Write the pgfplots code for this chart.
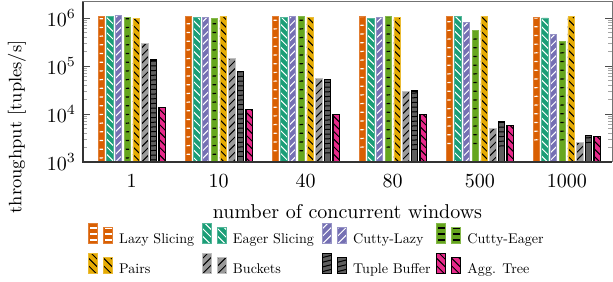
\documentclass[border=0pt]{standalone}
\usepackage{graphicx}
\usepackage{pgfplots}
\pgfplotsset{compat=1.18}
\definecolor{cO}{HTML}{D95F02}
\definecolor{cT}{HTML}{1B9E77}
\definecolor{cP}{HTML}{7570B3}
\definecolor{cG}{HTML}{66A61E}
\definecolor{cY}{HTML}{E6AB02}
\definecolor{cB}{HTML}{9A9A9A}
\definecolor{cD}{HTML}{5E5E5E}
\definecolor{cK}{HTML}{E7298A}
\newif\ifinpp
\newif\ifinleg
\tikzset{
 hdash/.style={path picture={\ifinpp\else\inpptrue
   \ifinleg
     \foreach \k in {0,...,2}{\fill[#1] ([xshift=-1.4pt,yshift=\k*3pt+1.5pt]path picture bounding box.south) rectangle ([xshift=1.4pt,yshift=\k*3pt+2.1pt]path picture bounding box.south);}
   \else
     \foreach \k in {0,...,19}{\draw[#1,line width=0.6pt,dash pattern=on 1.6pt off 41.9pt] ([xshift=0.775pt,yshift=\k*4.35pt+2pt]path picture bounding box.south west) -- ++(270pt,0);}
   \fi
   \inppfalse\fi}},
 bslash/.style={path picture={\ifinpp\else\inpptrue\foreach \k in {0,...,92}{\draw[#1,line width=0.5pt] ([yshift=\k*3.8pt]path picture bounding box.south west) -- ++(350pt,-350pt);}\inppfalse\fi}},
 fslash/.style={path picture={\ifinpp\else\inpptrue\foreach \k in {-72,...,24}{\draw[#1,line width=0.5pt] ([yshift=\k*3.8pt]path picture bounding box.south west) -- ++(350pt,350pt);}\inppfalse\fi}},
 hline/.style={path picture={\ifinpp\else\inpptrue\foreach \k in {0,...,36}{\draw[#1,line width=0.5pt] ([yshift=\k*2.35pt+1pt]path picture bounding box.south west) -- ++(280pt,0);}\inppfalse\fi}},
}
\pgfplotsset{
 lazy/.style={fill=cO, draw=cO!80!white, line width=0.4pt, hdash=white},
 eager/.style={fill=cT, draw=cT!75!white, line width=0.4pt, bslash=white},
 clazy/.style={fill=cP, draw=cP!75!white, line width=0.4pt, fslash=white},
 ceager/.style={fill=cG, draw=cG!80!white, line width=0.4pt, hdash=black},
 pairs/.style={fill=cY, draw=cY!80!white, line width=0.4pt, bslash=black},
 buckets/.style={fill=cB, draw=black!25, line width=0.4pt, fslash=black},
 tbuf/.style={fill=cD, draw=black, line width=0.6pt, hline=black},
 aggt/.style={fill=cK, draw=black, line width=0.6pt, bslash=black},
}
\newcommand{\lt}[2]{\makebox[#1][l]{\raisebox{2.2pt}{\scalebox{0.705}{#2}}}}
\begin{document}
\begin{tikzpicture}
\begin{axis}[name=ax, scale only axis, width=264.5pt, height=80pt,
 ymode=log, ymin=1000, ymax=2.15e6, xmin=0.44, xmax=6.52,
 ybar, bar width=3.15pt, log origin y=infty,
 xtick={1,2,3,4,5,6}, xticklabels={1,10,40,80,500,1000},
 x tick style={draw=none},
 xticklabel style={anchor=base, yshift=-13pt},
 tick align=inside, major tick length=3.5pt, minor tick length=2.2pt,
 major y tick style={black!70}, minor y tick style={black!35},
 axis line style={black!55, line width=0.5pt},
 xlabel={number of concurrent windows},
 xlabel style={at={(axis description cs:0.5,0)}, anchor=base, yshift=-28.5pt},
 ylabel={throughput [tuples/s]},
 ylabel style={at={(axis description cs:-0.125,0.22)}, anchor=center, font=\fontsize{9}{11}\selectfont},
 legend columns=4,
 legend cell align=left,
 legend style={draw=none, fill=none,
   at={(axis description cs:0.00945,-0.381)}, anchor=north west, inner sep=0pt,
   nodes={inner sep=0pt},
   row sep=1.1pt,
   /tikz/every odd column/.append style={column sep=3pt},
   /tikz/every even column/.append style={column sep=0pt}},
 legend image code/.code={
   \inlegtrue
   \path[#1] (0pt,-0.8pt) rectangle (4.5pt,9.2pt);
   \path[#1] (7.5pt,-0.8pt) rectangle (12pt,7.2pt);
 },
]
\addplot[lazy, bar shift=-15.225pt] coordinates {(1,1.07e6) (2,1.07e6) (3,1.07e6) (4,1.07e6) (5,1.07e6) (6,1.03e6)};
\addplot[eager, bar shift=-10.875pt] coordinates {(1,1.07e6) (2,1.03e6) (3,1.03e6) (4,0.98e6) (5,1.07e6) (6,1.0e6)};
\addplot[clazy, bar shift=-6.525pt] coordinates {(1,1.12e6) (2,1.03e6) (3,1.07e6) (4,1.03e6) (5,8.0e5) (6,4.5e5)};
\addplot[ceager, bar shift=-2.175pt] coordinates {(1,1.03e6) (2,0.98e6) (3,1.07e6) (4,1.07e6) (5,5.6e5) (6,3.2e5)};
\addplot[pairs, bar shift=2.175pt] coordinates {(1,0.98e6) (2,1.07e6) (3,1.03e6) (4,1.03e6) (5,1.07e6) (6,1.07e6)};
\addplot[buckets, bar shift=6.525pt] coordinates {(1,2.97e5) (2,1.45e5) (3,5.5e4) (4,3.0e4) (5,4.9e3) (6,2.5e3)};
\addplot[tbuf, bar shift=10.875pt] coordinates {(1,1.33e5) (2,7.7e4) (3,5.3e4) (4,3.0e4) (5,6.9e3) (6,3.5e3)};
\addplot[aggt, bar shift=15.225pt] coordinates {(1,1.38e4) (2,1.26e4) (3,9.8e3) (4,9.6e3) (5,5.8e3) (6,3.4e3)};
\legend{\lt{41.5pt}{Lazy Slicing}, \lt{44.5pt}{Eager Slicing}, \lt{41.5pt}{Cutty-Lazy}, \lt{40pt}{Cutty-Eager},
        \lt{41.5pt}{Pairs}, \lt{44.5pt}{Buckets}, \lt{41.5pt}{Tuple Buffer}, \lt{40pt}{Agg. Tree}}
\end{axis}
\draw[black!80, line width=0.6pt] (ax.north west) -- (ax.south west) -- (ax.south east);
\pgfresetboundingbox
\path ([xshift=-41.5pt,yshift=-60pt]ax.south west) rectangle ([xshift=0.5pt,yshift=1pt]ax.north east);
\end{tikzpicture}
\end{document}
